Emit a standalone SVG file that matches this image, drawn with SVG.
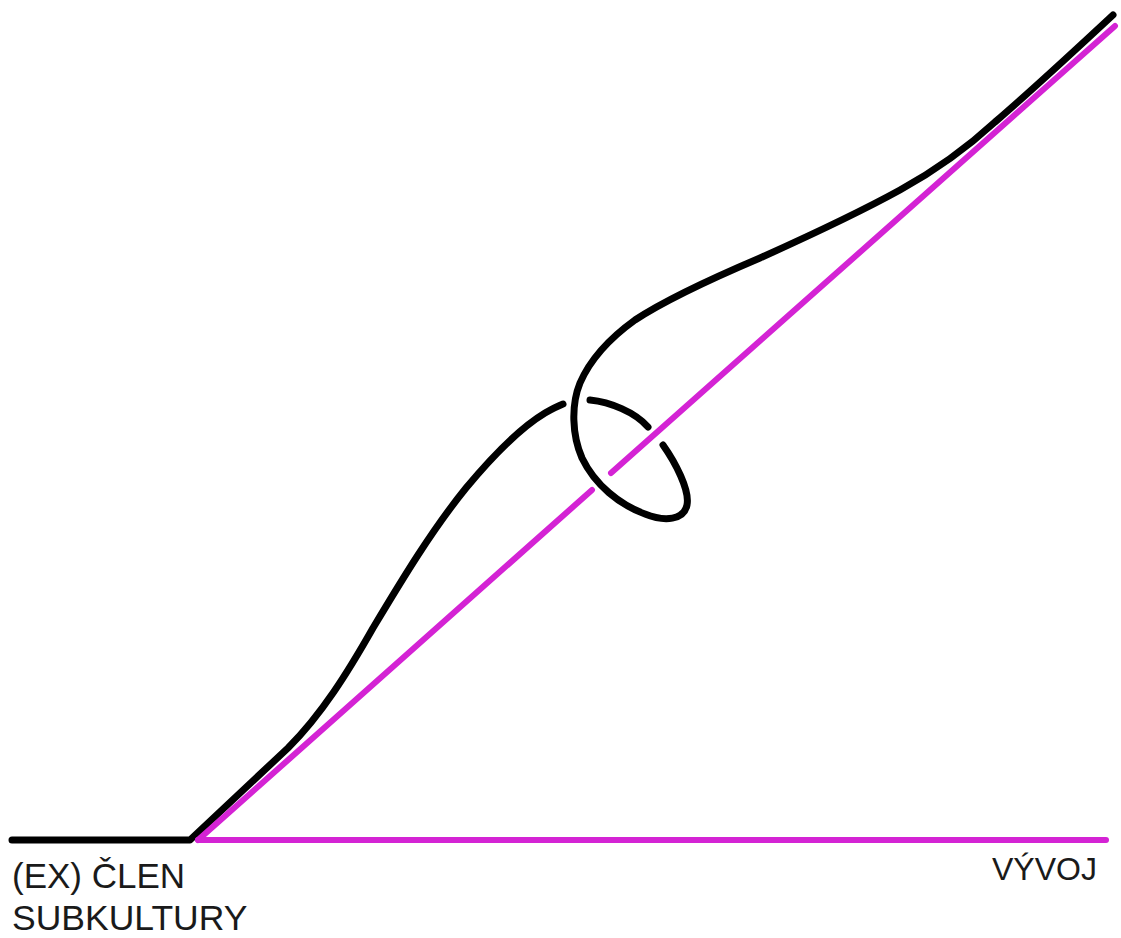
<svg xmlns="http://www.w3.org/2000/svg" width="1121" height="938" viewBox="0 0 1121 938">
<style>
.blk{fill:none;stroke:#000;stroke-width:7;stroke-linecap:round;stroke-linejoin:round}
.mag{fill:none;stroke:#d423d4;stroke-width:6;stroke-linecap:round;stroke-linejoin:round}
.lbl{font-family:"Liberation Sans",Arial,sans-serif;fill:#1a1a1a}
</style>
<rect width="1121" height="938" fill="#fff"/>
<g id="connectors">
<g id="black-path">
<path class="blk" d="M12,840 L190,840 L288,748 C322,714 348,672 373,628 C403,578 432,530 466,488 C491,458 520,428 545,413 C552,409 558,406 563,404"/>
<path class="blk" d="M590,400 C610,402 635,412 648,427"/>
<path class="blk" d="M663,445 C675,462 690,490 687,505 C684,520 665,522 645,514 C620,505 595,485 582,458 C572,435 571,405 580,383 C590,360 610,338 635,320 C670,297 720,275 760,258 C800,240 860,212 900,190 C940,168 970,145 995,122 C1030,92 1070,55 1113,15"/>
</g>
<g id="magenta-lines">
<path class="mag" d="M198,840 L592,490"/>
<path class="mag" d="M611,473 L1115,26"/>
<path class="mag" d="M198,840 L1106,840"/>
</g>
</g>
<g id="label-member">
<text class="lbl" x="12" y="888" font-size="35">(EX) ČLEN</text>
<text class="lbl" x="12" y="930" font-size="35.5">SUBKULTURY</text>
</g>
<g id="label-development">
<text class="lbl" x="992" y="880" font-size="32">VÝVOJ</text>
</g>
</svg>
